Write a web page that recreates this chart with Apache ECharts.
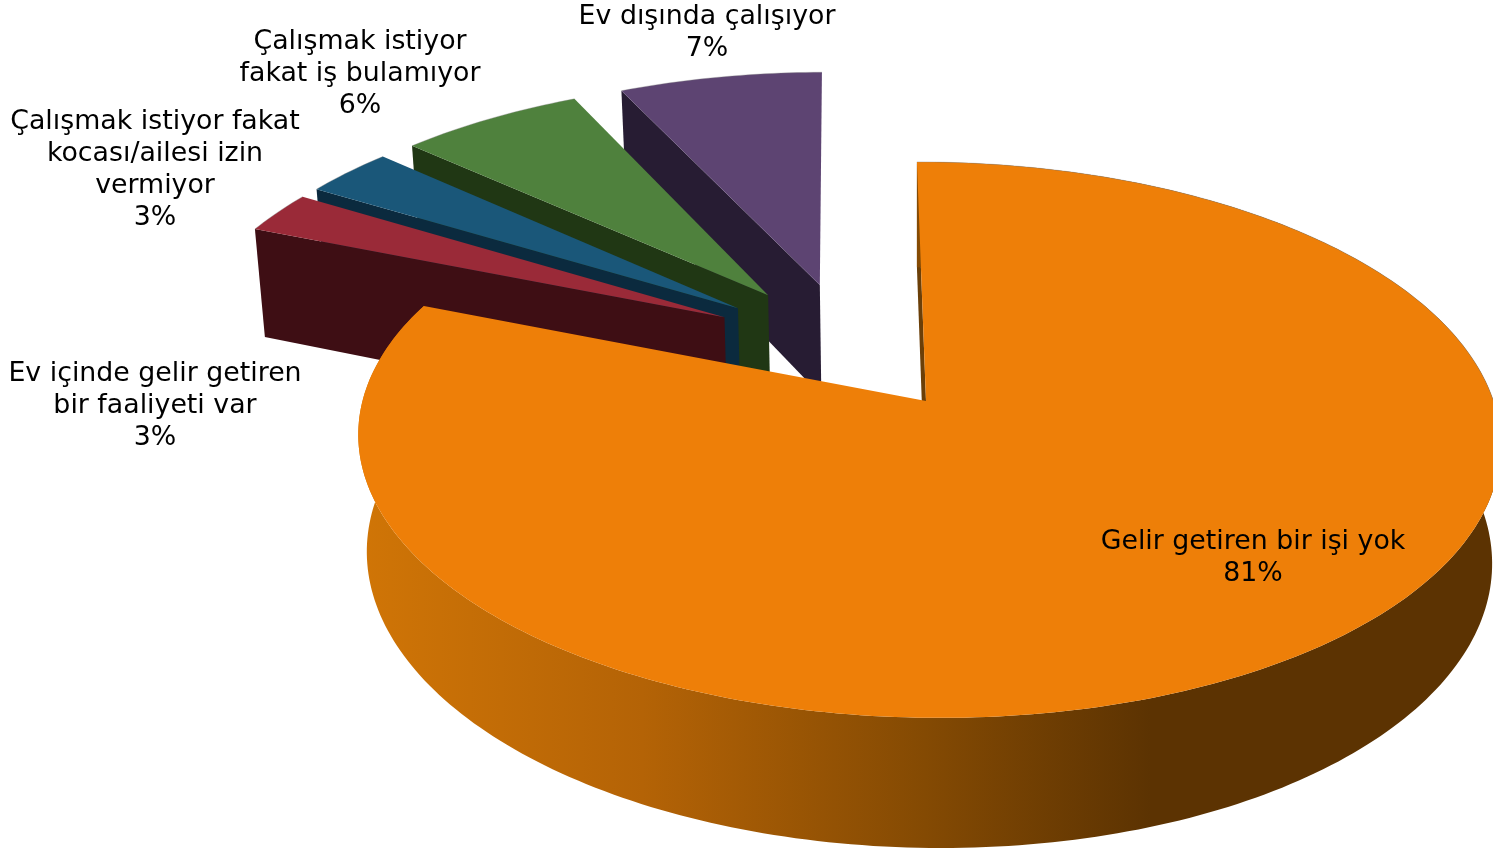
<!DOCTYPE html>
<html><head><meta charset="utf-8">
<style>html,body{margin:0;padding:0;background:#fff;overflow:hidden}#c{width:1493px;height:850px}</style>
<script src="https://cdn.jsdelivr.net/npm/echarts@6/dist/echarts.min.js"></script>
</head><body><div id="c"></div>
<script>
// Data, clockwise from the top of the pie
const categories = [
  'Gelir getiren bir işi yok',
  'Ev içinde gelir getiren\nbir faaliyeti var',
  'Çalışmak istiyor fakat\nkocası/ailesi izin\nvermiyor',
  'Çalışmak istiyor\nfakat iş bulamıyor',
  'Ev dışında çalışıyor'
];
const values = [81, 3, 3, 6, 7];

// Styling
const topColors  = ['#ee7f08', '#9a2a38', '#1a5779', '#4f813d', '#5d4472'];
const wallColors = ['#6b3f08', '#3e0e14', '#0b2a3e', '#203714', '#271c33'];
const layerOrder = [50, 40, 30, 20, 10];
// Explosion of each slice, in pie radii on the pie's own plane
const explodeU = [0, -0.367, -0.343, -0.288, -0.1915];
const explodeV = [0, -0.322, -0.358, -0.411, -0.4526];
// Small drawing trim of each slice's edges, in degrees
const trimStart = [0, 0.3, -1.2, -1.1, 0];
const trimEnd   = [0, -1.1, -1.0, 0, -0.2];
// Label centre, in pixels
const labelX = [1253, 155, 155, 360, 707];
const labelY = [558.5, 406, 170, 74, 33];

// Projection of the pie's plane
const view = {x0: 926, y0: 401, bx: 565.5, ay: 272.5, k: 0.14, j: 0.0035, skew: 0.038, depth: 116, shrink: 0.985};
function project(u, v, low) {
  const w = 1 - view.k * v - view.j * u;
  const s = low ? view.shrink : 1;
  const ty = view.ay * v / w;
  return [
    view.x0 + s * view.bx * u / w + view.skew * ty,
    view.y0 + s * ty + (low ? view.depth / w : 0)
  ];
}
const total = values.reduce((a, b) => a + b, 0);
const startDeg = values.map((_, i) => values.slice(0, i).reduce((a, b) => a + b, 0) / total * 360);

function arc(i, a0, a1, low) {
  const pts = [], n = Math.max(2, Math.ceil(Math.abs(a1 - a0)));
  for (let t = 0; t <= n; t++) {
    const a = (a0 + (a1 - a0) * t / n) * Math.PI / 180;
    pts.push(project(explodeU[i] + Math.sin(a), explodeV[i] - Math.cos(a), low));
  }
  return pts;
}
const wallGradient = new echarts.graphic.LinearGradient(360, 0, 1490, 0, [
  {offset: 0, color: '#d07506'},
  {offset: 0.25, color: '#b46306'},
  {offset: 0.5, color: '#844a03'},
  {offset: 0.7, color: '#5c3302'},
  {offset: 1, color: '#5c3302'}
], true);

function renderItem(params, api) {
  const i = api.value(1);
  const a0 = startDeg[i] + trimStart[i], a1 = startDeg[i] + api.value(0) / total * 360 + trimEnd[i];
  const z = layerOrder[i];
  const apexTop = project(explodeU[i], explodeV[i], false);
  const apexLow = project(explodeU[i], explodeV[i], true);
  const topArc = arc(i, a0, a1, false);
  const lowArc = arc(i, a0, a1, true);
  const kids = [];
  // radial wall on the slice's start edge
  kids.push({type: 'polygon', z2: z,
    shape: {points: [topArc[0], apexTop, apexLow, lowArc[0]]},
    style: {fill: wallColors[i]}});
  // outer wall, only the big slice turns it towards the viewer
  if (i === 0) {
    kids.push({type: 'polygon', z2: z + 1,
      shape: {points: topArc.concat(lowArc.slice().reverse())},
      style: {fill: wallGradient}});
  }
  // top face
  kids.push({type: 'polygon', z2: z + 2,
    shape: {points: [apexTop].concat(topArc)},
    style: {fill: topColors[i]}});
  // faint rim
  kids.push({type: 'polyline', z2: z + 3,
    shape: {points: topArc.slice(0, i === 0 ? 95 : undefined)},
    style: {fill: null, stroke: 'rgba(130,130,130,0.35)', lineWidth: 1}});
  // label
  kids.push({type: 'text', z2: 100,
    style: {
      x: labelX[i], y: labelY[i],
      text: categories[i] + '\n' + Math.round(api.value(0)) + '%',
      align: 'center', verticalAlign: 'middle',
      font: '26.8px "DejaVu Sans"', lineHeight: 32, fill: '#000'
    }});
  return {type: 'group', children: kids};
}

const chart = echarts.init(document.getElementById('c'), null, {renderer: 'canvas'});
chart.setOption({
  animation: false,
  backgroundColor: '#fff',
  series: [{
    type: 'custom',
    coordinateSystem: 'none',
    silent: true,
    renderItem,
    data: values.map((v, i) => [v, i])
  }]
});
</script></body></html>
